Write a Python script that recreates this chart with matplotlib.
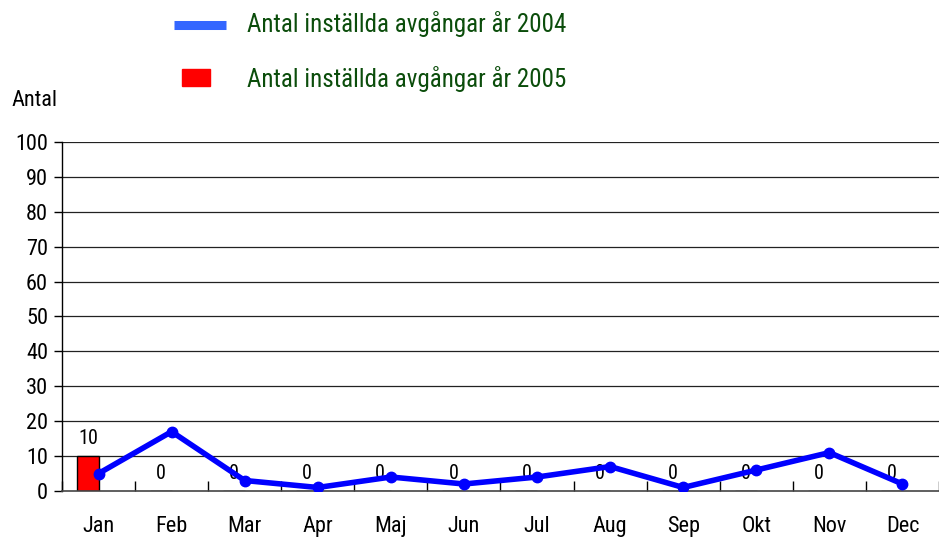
import matplotlib
matplotlib.use("Agg")
import matplotlib.pyplot as plt
from matplotlib import font_manager
import numpy as np

months = ["Jan", "Feb", "Mar", "Apr", "Maj", "Jun", "Jul", "Aug", "Sep", "Okt", "Nov", "Dec"]
cancelled_2004 = [5, 17, 3, 1, 4, 2, 4, 7, 1, 6, 11, 2]
cancelled_2005 = [10, 0, 0, 0, 0, 0, 0, 0, 0, 0, 0, 0]
yticks = list(range(0, 101, 10))
label_2004 = "Antal inställda avgångar år 2004"
label_2005 = "Antal inställda avgångar år 2005"

# pick an upright regular condensed font if one exists
fp = None
for name in ("Liberation Sans Narrow", "Roboto Condensed", "Open Sans Condensed"):
    for f in font_manager.fontManager.ttflist:
        if f.name == name and f.style == "normal" and f.weight in (400, "normal", "regular"):
            fp = font_manager.FontProperties(fname=f.fname)
            break
    if fp is not None:
        break
if fp is None:
    fp = font_manager.FontProperties(family="Liberation Sans")

def F(size):
    p = fp.copy()
    p.set_size(size)
    return p

fig = plt.figure(figsize=(9.39, 5.37), dpi=100)
ax = fig.add_axes([0.066, 0.0857, 0.934, 0.65])

x = np.arange(len(months))
ax.set_xlim(-0.5, len(months) - 0.5)
ax.set_ylim(0, 100)

for v in yticks[1:]:
    ax.axhline(v, color="#222222", lw=0.9, zorder=1)

bars = ax.bar(x - 0.145, cancelled_2005, width=0.3, color="#FF0000",
              edgecolor="black", linewidth=1, zorder=2)
ax.bar_label(bars, labels=[str(v) for v in cancelled_2005], padding=6,
             fontproperties=F(14.5), color="black")

ax.plot(x, cancelled_2004, color="#0000FF", lw=4, marker="o", markersize=7.5, zorder=3)

ax.set_yticks(yticks)
ax.set_yticklabels([str(v) for v in yticks], fontproperties=F(16))
ax.set_xticks(np.arange(len(months) + 1) - 0.5, minor=False)
ax.set_xticklabels([])
ax.set_xticks(x, minor=True)
ax.set_xticklabels(months, minor=True, fontproperties=F(16))
ax.tick_params(axis="x", which="minor", length=0, pad=18)
ax.tick_params(axis="x", which="major", length=7, direction="in", width=1)
ax.tick_params(axis="y", length=6, direction="out", width=1, pad=4)

for s in ["top", "right"]:
    ax.spines[s].set_visible(False)
ax.spines["bottom"].set_color("#444444")
ax.spines["bottom"].set_linewidth(1.2)
ax.spines["left"].set_linewidth(1)

fig.text(11 / 939, 1 - 100 / 537, "Antal", fontproperties=F(16), va="center", ha="left")

# legend
fig.add_artist(plt.Line2D([174 / 939, 226 / 939], [1 - 24.5 / 537] * 2,
                          color="#3366FF", lw=6.5, solid_capstyle="butt",
                          transform=fig.transFigure))
fig.add_artist(plt.Rectangle((182 / 939, 1 - 86 / 537), 28 / 939, 17 / 537,
                             color="#FF0000", transform=fig.transFigure))
fig.text(247 / 939, 1 - 24 / 537, label_2004, fontproperties=F(18), color="#0B4D0B",
         va="center", ha="left")
fig.text(247 / 939, 1 - 79 / 537, label_2005, fontproperties=F(18), color="#0B4D0B",
         va="center", ha="left")

fig.savefig("out.png", dpi=100)
